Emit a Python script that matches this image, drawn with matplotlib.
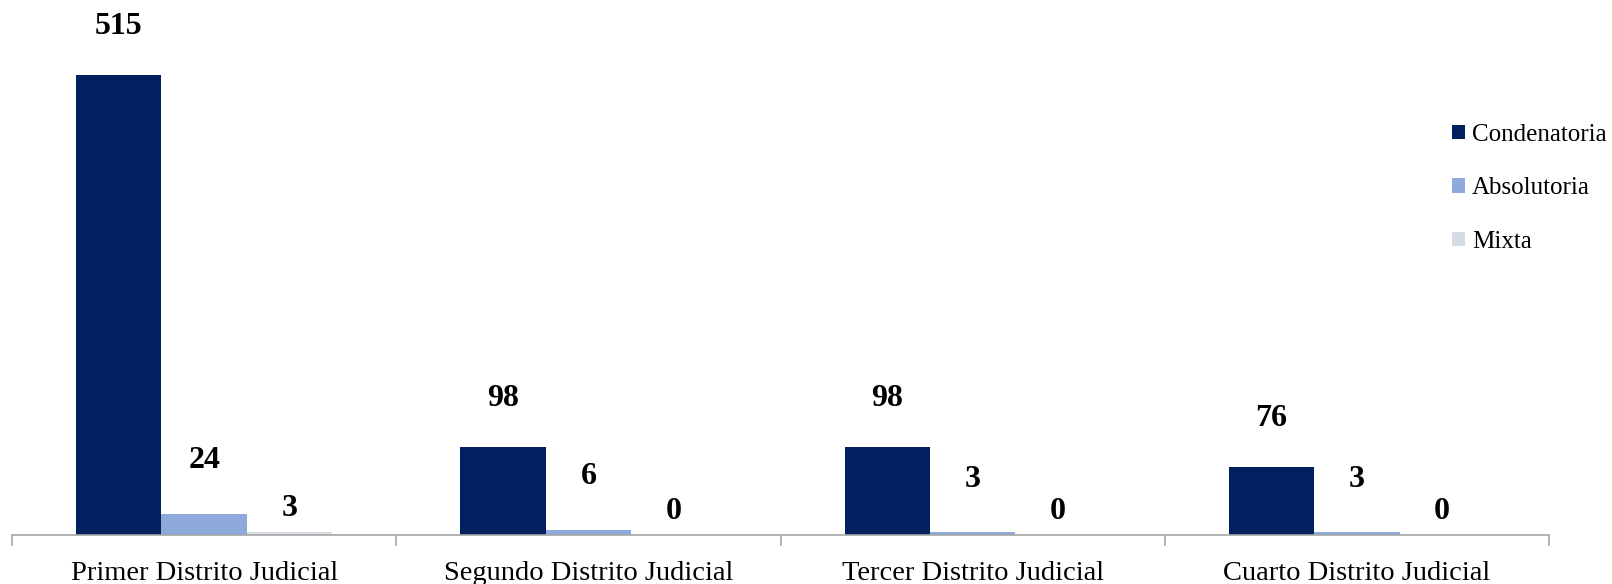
import matplotlib
matplotlib.use("Agg")
from matplotlib import pyplot as plt
from matplotlib.patches import Patch
import numpy as np

districts = ["Primer Distrito Judicial", "Segundo Distrito Judicial",
             "Tercer Distrito Judicial", "Cuarto Distrito Judicial"]
series_names = ["Condenatoria", "Absolutoria", "Mixta"]
condenatoria = [515, 98, 98, 76]
absolutoria = [24, 6, 3, 3]
mixta = [3, 0, 0, 0]

COLORS = ["#002060", "#8EA9DB", "#D6DCE4"]
LABEL_OFFSETS = [35, 38, 17]  # points above bar top, differs per series as in the original

plt.rcParams["font.family"] = ["Liberation Serif", "DejaVu Serif"]

fig = plt.figure(figsize=(16.12, 5.84), dpi=100)
ax = fig.add_axes([12 / 1612, 49 / 584, (1549 - 12) / 1612, 535 / 584])

x = np.arange(len(districts))
width = 0.222
all_series = [condenatoria, absolutoria, mixta]

for i, (name, values) in enumerate(zip(series_names, all_series)):
    pos = x + (i - 1) * width
    ax.bar(pos, values, width=width, color=COLORS[i], label=name)
    for px, v in zip(pos, values):
        ax.annotate(str(v), (px, v), xytext=(0, LABEL_OFFSETS[i]),
                    textcoords="offset points", ha="center", va="center",
                    fontsize=23, fontweight="bold", color="black")

ax.set_xlim(-0.5, len(districts) - 0.5)
ax.set_ylim(0, 599)

for side in ["top", "right", "left"]:
    ax.spines[side].set_visible(False)
ax.spines["bottom"].set_color("#A6A6A6")
ax.spines["bottom"].set_linewidth(1.2)

ax.set_yticks([])
ax.set_xticks(np.arange(-0.5, len(districts)), minor=True)
ax.set_xticks(x)
ax.set_xticklabels(districts, fontsize=20.5)
ax.tick_params(axis="x", which="major", length=0, pad=19)
ax.tick_params(axis="x", which="minor", length=8, width=1.2, color="#A6A6A6", direction="out")

handles = [Patch(facecolor=c, label=n) for c, n in zip(COLORS, series_names)]
fig.legend(handles=handles, loc="upper left", bbox_to_anchor=(1442 / 1612, 1 - 114 / 584),
           frameon=False, fontsize=18, handlelength=0.5, handleheight=0.5,
           handletextpad=0.3, labelspacing=1.25, borderaxespad=0)

fig.savefig("out.png", dpi=100)
